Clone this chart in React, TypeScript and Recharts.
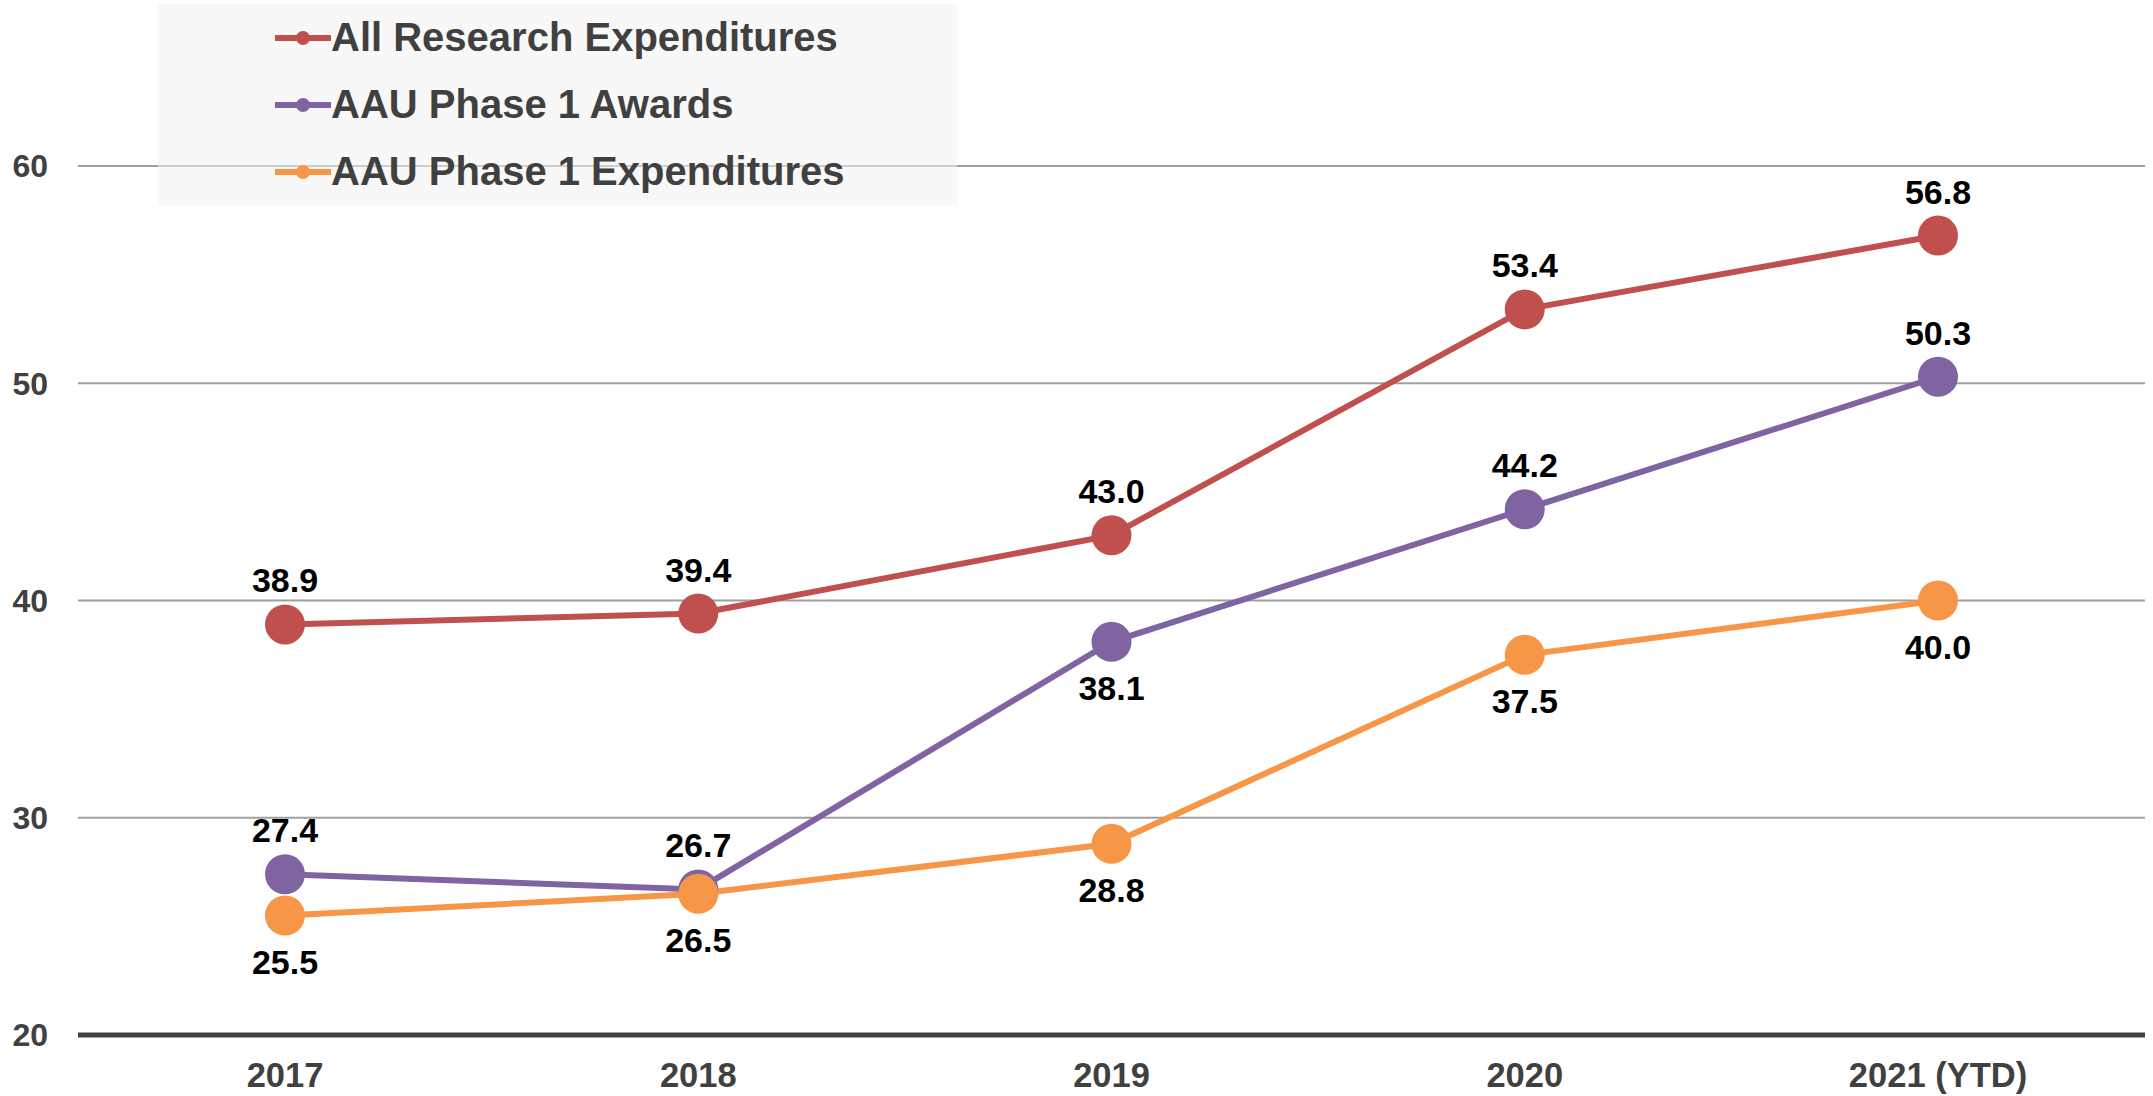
import React from 'react';
import { LineChart, Line, XAxis, YAxis, CartesianGrid, Legend, LabelList } from 'recharts';

const years = ['2017', '2018', '2019', '2020', '2021 (YTD)'];
const allResearch = [38.9, 39.4, 43.0, 53.4, 56.8];
const phase1Awards = [27.4, 26.7, 38.1, 44.2, 50.3];
const phase1Expenditures = [25.5, 26.5, 28.8, 37.5, 40.0];
const yTicks = [20, 30, 40, 50, 60];
const seriesNames = ['All Research Expenditures', 'AAU Phase 1 Awards', 'AAU Phase 1 Expenditures'];

// which side of the marker each value label sits on
const allResearchSide = ['up', 'up', 'up', 'up', 'up'];
const awardsSide = ['up', 'up', 'down', 'up', 'up'];
const expendituresSide = ['down', 'down', 'down', 'down', 'down'];

const data = years.map((year, i) => ({
  year,
  all: allResearch[i],
  awards: phase1Awards[i],
  exp: phase1Expenditures[i],
}));

const FONT = '"Liberation Sans", Arial, sans-serif';

const makeLabel = (sides: string[]) => (props: any) => {
  const { x, y, value, index } = props;
  const below = sides[index] === 'down';
  return (
    <text
      x={x}
      y={below ? y + 46 : y - 44}
      textAnchor="middle"
      dominantBaseline="central"
      fontSize={34}
      fontWeight={700}
      fontFamily={FONT}
      fill="#000"
    >
      {Number(value).toFixed(1)}
    </text>
  );
};

const renderLegend = (props: any) => {
  const items = [...(props.payload || [])].sort(
    (a: any, b: any) => seriesNames.indexOf(a.value) - seriesNames.indexOf(b.value)
  );
  return (
    <div
      style={{
        width: 799,
        height: 201,
        background: 'rgba(242,242,242,0.55)',
        paddingLeft: 117,
        boxSizing: 'border-box',
      }}
    >
      {items.map((entry: any) => (
        <div key={entry.value} style={{ height: 67, display: 'flex', alignItems: 'center' }}>
          <svg width={56} height={20}>
            <line x1={0} y1={10} x2={56} y2={10} stroke={entry.color} strokeWidth={6} />
            <circle cx={28} cy={10} r={7} fill={entry.color} />
          </svg>
          <span style={{ fontSize: 40, fontWeight: 700, color: '#404040', fontFamily: FONT }}>
            {entry.value}
          </span>
        </div>
      ))}
    </div>
  );
};

export default function App() {
  return (
    <div style={{ position: 'absolute', left: 0, top: 0, width: 2153, height: 1096, background: '#fff', fontFamily: FONT }}>
      <LineChart
        width={2153}
        height={1096}
        data={data}
        margin={{ top: 166, right: 8, left: 0, bottom: 0 }}
      >
        <CartesianGrid horizontal vertical={false} stroke="#a0a0a0" strokeWidth={2} />
        <XAxis
          dataKey="year"
          height={61}
          padding={{ left: 207, right: 207 }}
          tickLine={false}
          tickSize={0}
          tickMargin={28}
          axisLine={{ stroke: '#404040', strokeWidth: 5 }}
          tick={{ fill: '#404040', fontSize: 34.5, fontWeight: 700, fontFamily: FONT }}
        />
        <YAxis
          width={78}
          domain={[20, 60]}
          ticks={yTicks}
          axisLine={false}
          tickLine={false}
          tickSize={0}
          tickMargin={30}
          tick={{ fill: '#404040', fontSize: 32, fontWeight: 700, fontFamily: FONT }}
        />
        <Legend
          layout="vertical"
          align="center"
          verticalAlign="middle"
          content={renderLegend}
          wrapperStyle={{ position: 'absolute', left: 158, top: 4, width: 799, height: 201 }}
        />
        <Line
          dataKey="all"
          name={seriesNames[0]}
          stroke="#c0504d"
          strokeWidth={6}
          dot={{ r: 20, fill: '#c0504d', stroke: '#c0504d', strokeWidth: 0 }}
          isAnimationActive={false}
        >
          <LabelList dataKey="all" content={makeLabel(allResearchSide)} />
        </Line>
        <Line
          dataKey="awards"
          name={seriesNames[1]}
          stroke="#8064a2"
          strokeWidth={6}
          dot={{ r: 20, fill: '#8064a2', stroke: '#8064a2', strokeWidth: 0 }}
          isAnimationActive={false}
        >
          <LabelList dataKey="awards" content={makeLabel(awardsSide)} />
        </Line>
        <Line
          dataKey="exp"
          name={seriesNames[2]}
          stroke="#f79646"
          strokeWidth={6}
          dot={{ r: 20, fill: '#f79646', stroke: '#f79646', strokeWidth: 0 }}
          isAnimationActive={false}
        >
          <LabelList dataKey="exp" content={makeLabel(expendituresSide)} />
        </Line>
      </LineChart>
    </div>
  );
}
